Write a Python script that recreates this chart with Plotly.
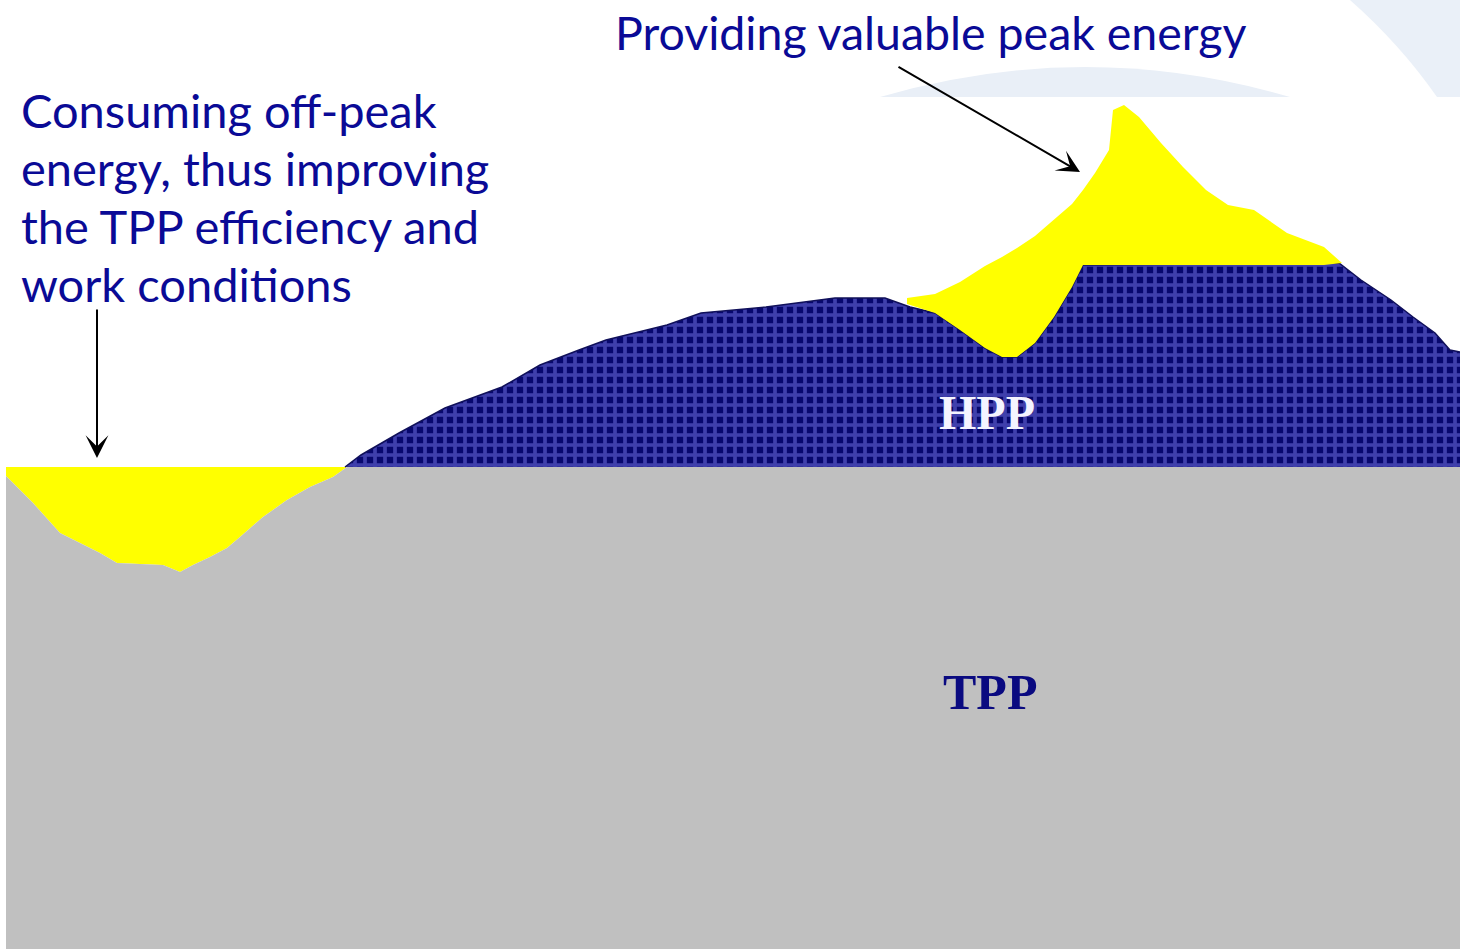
import plotly.graph_objects as go

# Load units (0 = bottom of chart)
BASE_LOAD = 482  # thermal (TPP) base level

# Off-peak demand curve (gray top, dipping below base)
tpp_x = [6, 7, 20, 33, 60, 80, 100, 117, 163, 180, 193, 210, 227, 240, 263, 287, 310, 333, 347, 1460]
tpp_top = [473, 472, 459, 446, 416, 406, 396, 386, 384, 377, 384, 392, 401, 412, 432, 449, 462, 472, 482, 482]
dip_n = 19  # points of the off-peak dip

# HPP generation top (demand with pumped storage)
hpp_x = [345, 361, 399, 445, 502, 540, 579, 606, 667, 701, 766, 835, 885, 910, 935, 960, 985, 1002,
         1017, 1035, 1054, 1072, 1083, 1339, 1361, 1391, 1413, 1435, 1450, 1460]
hpp_top = [482, 494, 516, 541, 562, 584, 599, 609, 624, 636, 642, 651, 651, 642, 636, 619, 601, 592,
           592, 606, 632, 662, 684, 686, 669, 649, 632, 616, 599, 597]

# Peak energy provided by storage
peak_x = [907, 935, 960, 985, 1002, 1017, 1035, 1054, 1072, 1083, 1095, 1109, 1113, 1124, 1139, 1161,
          1183, 1206, 1228, 1254, 1287, 1324, 1342]
peak_top = [651, 655, 667, 683, 692, 701, 713, 729, 745, 759, 776, 799, 839, 844, 832, 806,
            782, 759, 744, 739, 716, 702, 686]
peak_low = [645, 636, 619, 601, 592, 592, 606, 632, 662, 684, 684, 684, 684, 684, 684, 684,
            684, 684, 684, 684, 684, 684, 686]

TEXT_BLUE = "#0a0a96"
FONT = "Lato"

fig = go.Figure()

# Off-peak pumping (yellow) between base level and dip curve
dx = tpp_x[:dip_n]
dy = tpp_top[:dip_n]
fig.add_trace(go.Scatter(
    x=dx + dx[::-1], y=dy + [BASE_LOAD] * dip_n,
    fill="toself", fillcolor="#ffff00", line=dict(width=0), mode="lines", hoverinfo="skip"))

# TPP gray
fig.add_trace(go.Scatter(
    x=tpp_x, y=tpp_top, fill="tozeroy", fillcolor="#c0c0c0",
    line=dict(width=0, color="#c0c0c0"), mode="lines", hoverinfo="skip"))

# HPP blue (between base and hpp_top)
fig.add_trace(go.Scatter(
    x=hpp_x, y=[BASE_LOAD] * len(hpp_x), mode="lines", line=dict(width=0), hoverinfo="skip"))
fig.add_trace(go.Scatter(
    x=hpp_x, y=hpp_top, fill="tonexty", mode="lines",
    line=dict(width=1.5, color="#10105a"),
    fillcolor="#08086e",
    fillpattern=dict(shape="+", bgcolor="#08086e", fgcolor="#7676ea", size=10, solidity=0.6),
    hoverinfo="skip"))

# Peak yellow
fig.add_trace(go.Scatter(
    x=peak_x + peak_x[::-1], y=peak_top + peak_low[::-1],
    fill="toself", fillcolor="#ffff00", line=dict(width=0), mode="lines", hoverinfo="skip"))

annotations = [
    dict(x=613, y=917, text="Providing valuable peak energy", showarrow=False,
         xanchor="left", yanchor="middle", font=dict(family=FONT, size=46.5, color=TEXT_BLUE)),
]
left_lines = ["Consuming off-peak", "energy, thus improving", "the TPP efficiency and", "work conditions"]
for i, line in enumerate(left_lines):
    annotations.append(dict(x=19, y=839 - 58 * i, text=line, showarrow=False,
                            xanchor="left", yanchor="middle",
                            font=dict(family=FONT, size=47, color=TEXT_BLUE)))
annotations += [
    dict(x=987, y=537, text="<b>HPP</b>", showarrow=False, xanchor="center", yanchor="middle",
         font=dict(family="Liberation Serif", size=48, color="#f4f4ff")),
    dict(x=990, y=257, text="<b>TPP</b>", showarrow=False, xanchor="center", yanchor="middle",
         font=dict(family="Liberation Serif", size=50, color="#0a0a80")),
    dict(x=97, y=491, ax=97, ay=641, xref="x", yref="y", axref="x", ayref="y", text="",
         showarrow=True, arrowhead=3, arrowsize=1.9, arrowwidth=2, arrowcolor="black"),
    dict(x=1080, y=777, ax=897, ay=883, xref="x", yref="y", axref="x", ayref="y", text="",
         showarrow=True, arrowhead=3, arrowsize=1.9, arrowwidth=2, arrowcolor="black"),
]

shapes = [
    dict(type="path", path="M 880,852 Q 1085,912 1290,852 Z", xref="x", yref="y",
         fillcolor="#e9eff7", line=dict(width=0), layer="below"),
    dict(type="path", path="M 1350,949 Q 1400,905 1437,852 L 1460,852 L 1460,949 Z", xref="x", yref="y",
         fillcolor="#eaf0f8", line=dict(width=0), layer="below"),
]

fig.update_layout(
    width=1460, height=949,
    margin=dict(l=0, r=0, t=0, b=0),
    paper_bgcolor="white", plot_bgcolor="white",
    showlegend=False,
    xaxis=dict(range=[0, 1460], visible=False, fixedrange=True),
    yaxis=dict(range=[0, 949], visible=False, fixedrange=True),
    annotations=annotations, shapes=shapes,
)

fig.write_html(
    "out.html",
    config={"displayModeBar": False},
    post_script="document.body.style.margin='0';document.body.style.overflow='hidden';",
)
